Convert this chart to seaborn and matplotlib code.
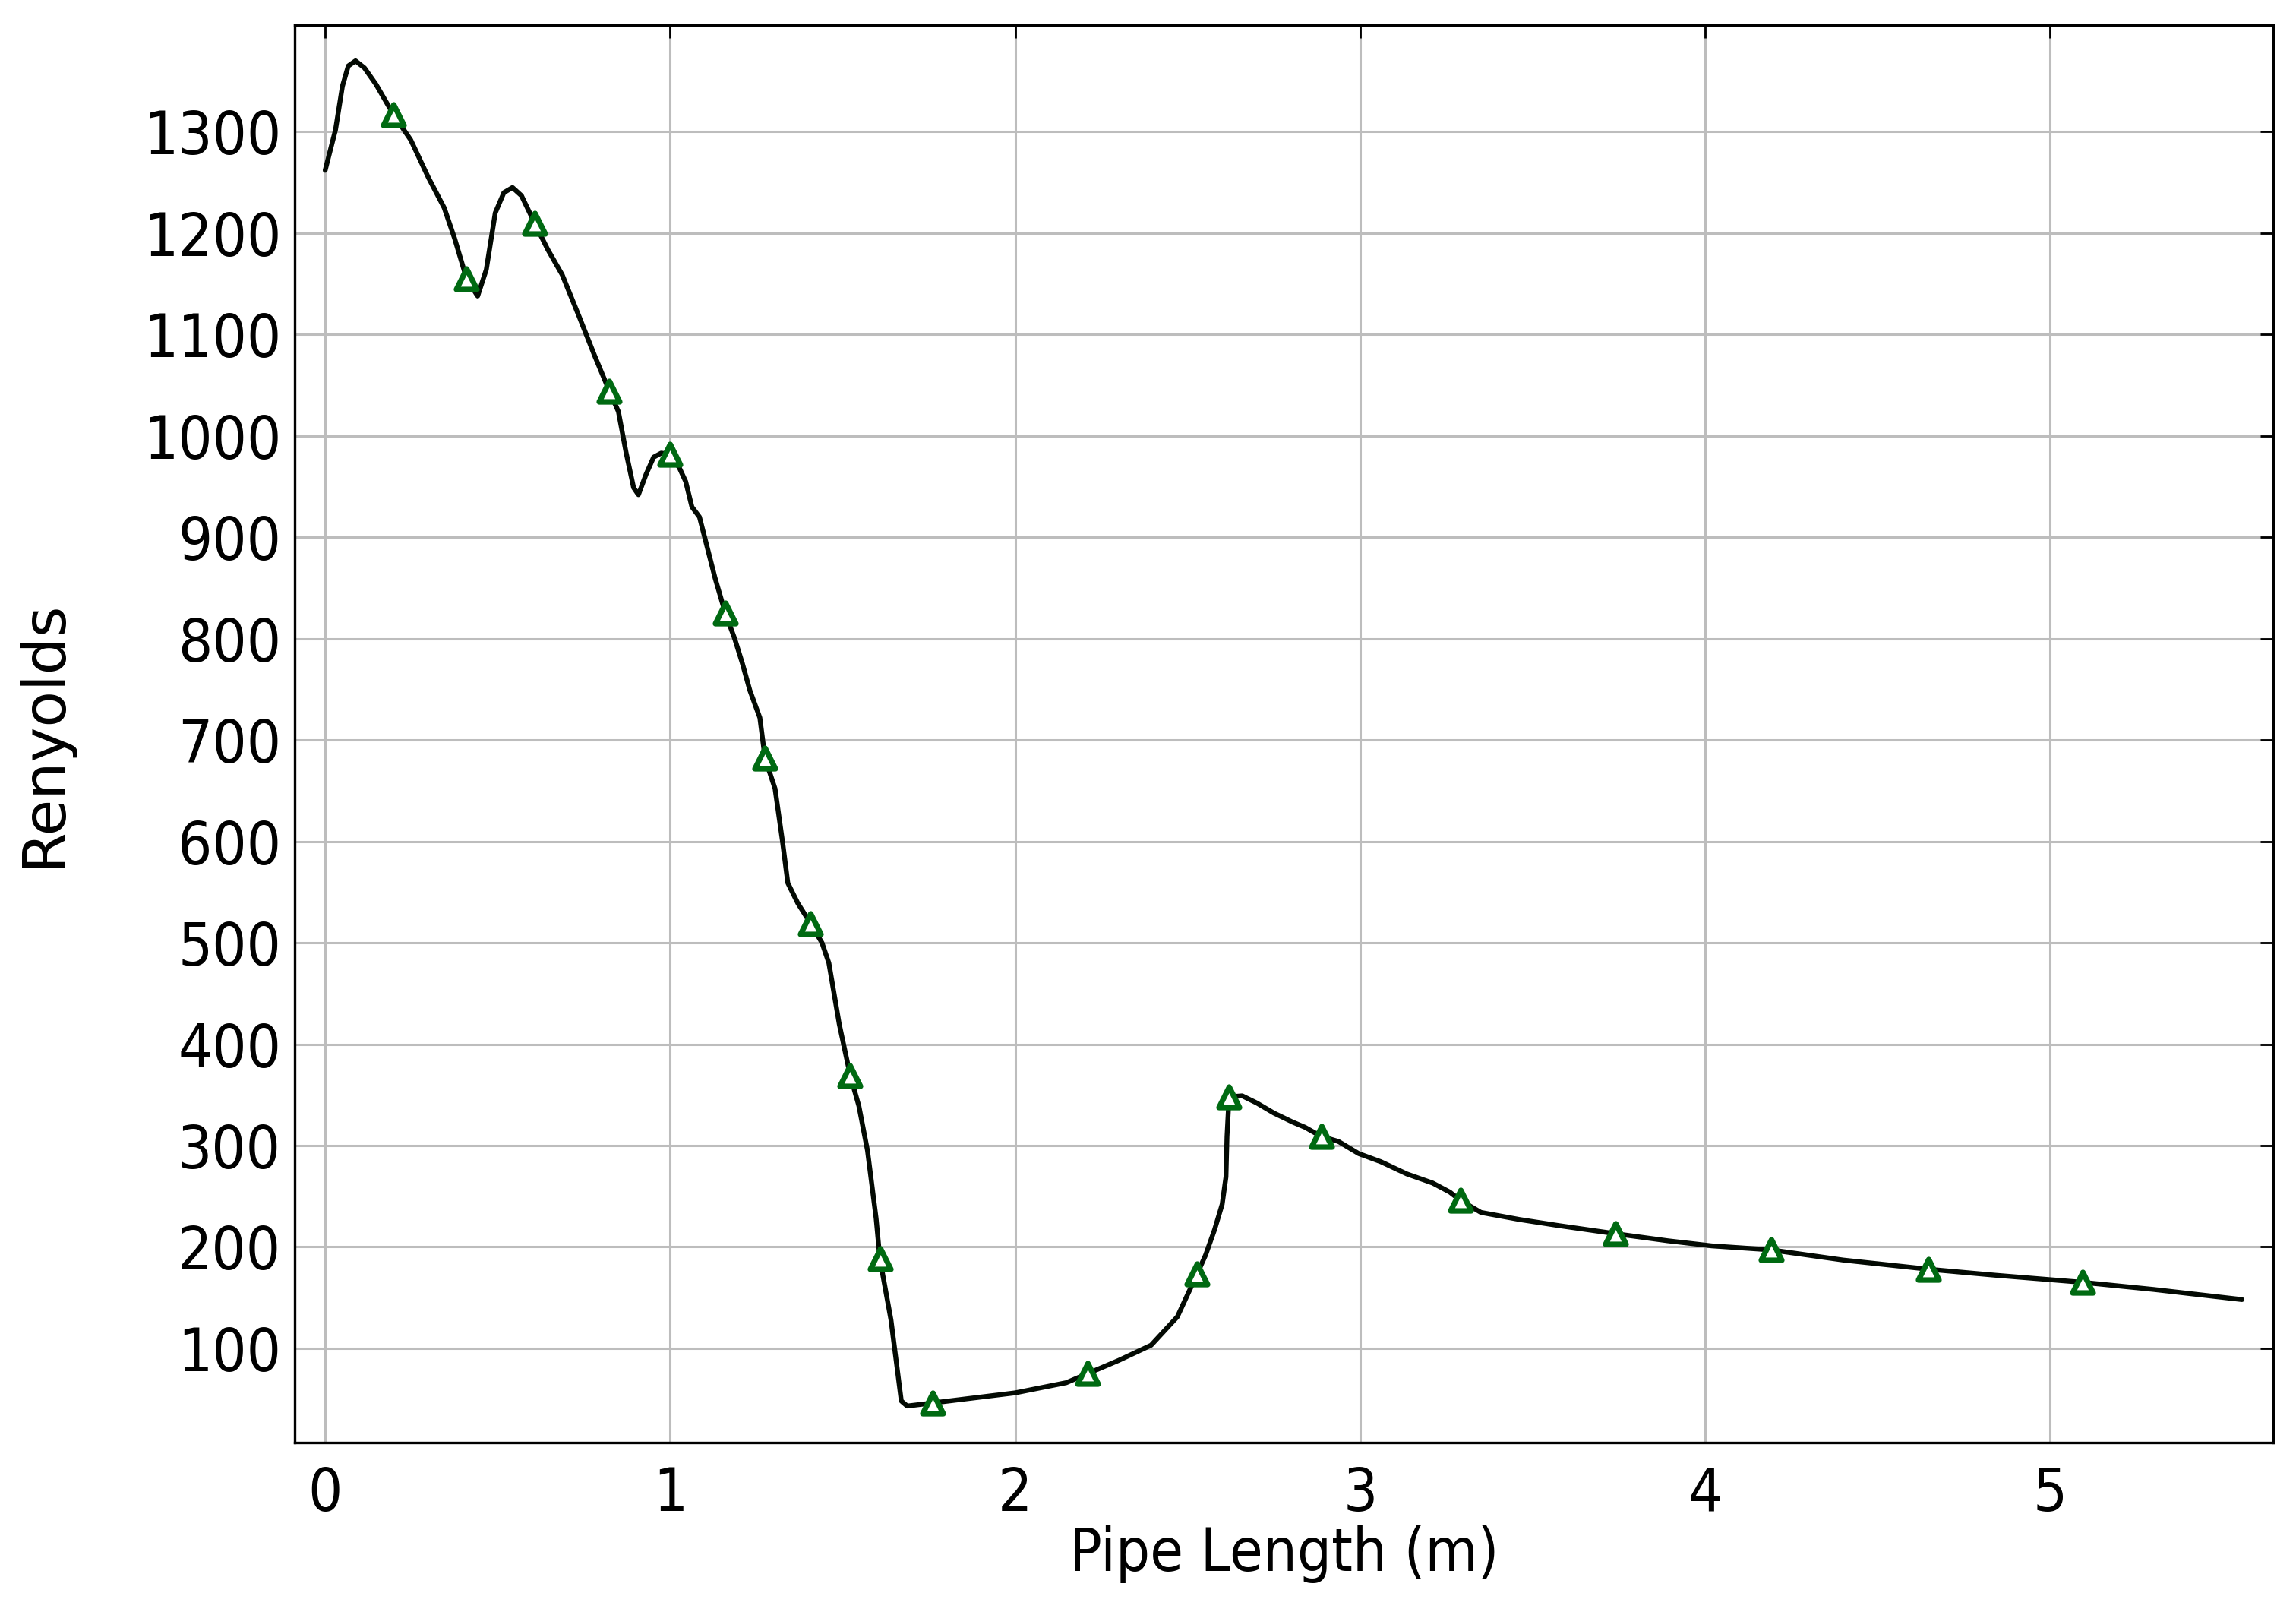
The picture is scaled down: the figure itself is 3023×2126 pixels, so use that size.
import matplotlib
matplotlib.use("Agg")
import matplotlib.pyplot as plt
import seaborn as sns
import pandas as pd

# Reynolds number along the pipe
pipe_length = [0.0, 0.03, 0.05, 0.067, 0.088, 0.114, 0.147, 0.198, 0.248, 0.299,
               0.345, 0.375, 0.41, 0.442, 0.467, 0.493, 0.518, 0.543, 0.569, 0.607,
               0.645, 0.687, 0.737, 0.78, 0.824, 0.85, 0.872, 0.894, 0.908, 0.93,
               0.952, 0.974, 0.999, 1.026, 1.045, 1.063, 1.085, 1.10, 1.13, 1.16,
               1.187, 1.209, 1.231, 1.26, 1.275, 1.304, 1.326, 1.341, 1.37, 1.407,
               1.44, 1.46, 1.49, 1.522, 1.547, 1.572, 1.597, 1.608, 1.64, 1.67,
               1.687, 1.76, 2.0, 2.148, 2.21, 2.30, 2.394, 2.47, 2.527, 2.552,
               2.578, 2.6, 2.611, 2.614, 2.62, 2.658, 2.70, 2.75, 2.805, 2.84,
               2.887, 2.937, 2.996, 3.06, 3.135, 3.21, 3.26, 3.29, 3.35, 3.462,
               3.576, 3.74, 3.892, 4.019, 4.192, 4.4, 4.646, 4.842, 5.095, 5.3, 5.556]
reynolds = [1262, 1302, 1345, 1365, 1370, 1363, 1347, 1317, 1292, 1255,
            1225, 1195, 1155, 1138, 1164, 1220, 1240, 1245, 1237, 1210,
            1184, 1159, 1117, 1080, 1044, 1024, 984, 949, 942, 962,
            979, 983, 982, 969, 955, 930, 920, 900, 860, 825,
            800, 776, 749, 722, 682, 652, 599, 559, 539, 519,
            500, 480, 420, 369, 339, 295, 228, 188, 128, 48,
            43, 46, 56, 66, 75, 88, 103, 131, 173, 192,
            217, 242, 269, 309, 348, 349, 342, 332, 323, 318,
            309, 304, 292, 284, 272, 263, 254, 246, 234, 227,
            221, 213, 206, 201, 197, 187, 178, 172, 165, 158, 148]

# marker positions (subset of the curve)
marker_x = [0.198, 0.41, 0.607, 0.824, 0.999, 1.16, 1.275, 1.407, 1.522, 1.608,
            1.76, 2.21, 2.527, 2.62, 2.887, 3.29, 3.74, 4.192, 4.646, 5.095]
marker_y = [1317, 1155, 1210, 1044, 982, 825, 682, 519, 369, 188,
            46, 75, 173, 348, 309, 246, 213, 197, 178, 165]

x_ticks = [0, 1, 2, 3, 4, 5]
y_ticks = [100, 200, 300, 400, 500, 600, 700, 800, 900, 1000, 1100, 1200, 1300]

sns.set_style("white")
plt.rcParams['font.family'] = ['DejaVu Sans']
plt.rcParams['text.color'] = 'black'
plt.rcParams['axes.labelcolor'] = 'black'

curve = pd.DataFrame({"x": pipe_length, "y": reynolds})
marks = pd.DataFrame({"x": marker_x, "y": marker_y})

fig = plt.figure(figsize=(30.23, 21.26), dpi=100)
ax = fig.add_axes([0.1284, 0.1068, 0.99 - 0.1284, 0.9843 - 0.1068])

sns.lineplot(data=curve, x="x", y="y", ax=ax, sort=False, estimator=None,
             color="#030a03", linewidth=4.6, zorder=3)
sns.scatterplot(data=marks, x="x", y="y", ax=ax, marker="^", s=380,
                facecolor="white", edgecolor="#006a12", linewidth=5.2, zorder=4)

ax.set_xlim(-0.088, 5.646)
ax.set_ylim(7, 1405)
ax.set_xticks(x_ticks)
ax.set_yticks(y_ticks)
ax.grid(True, color="#bdbdbd", linewidth=2.2)
ax.set_axisbelow(True)

for s in ax.spines.values():
    s.set_visible(True)
    s.set_color("black")
    s.set_linewidth(2.4)

ax.tick_params(direction="in", length=12, width=2, top=True, right=True,
               colors="black")
ax.tick_params(axis="y", pad=13)
ax.tick_params(axis="x", pad=22)
for lab in ax.get_xticklabels() + ax.get_yticklabels():
    lab.set_fontfamily("DejaVu Sans")
    lab.set_fontstretch("condensed")
    lab.set_fontsize(57)
    lab.set_color("black")

ax.set_xlabel("Pipe Length (m)", fontsize=57, fontstretch="condensed",
              color="black", labelpad=2)
ax.set_ylabel("Renyolds", fontsize=56, color="black", labelpad=0)
ax.yaxis.set_label_coords(-0.1125, 0.5)

plt.savefig("out.png", dpi=100)
